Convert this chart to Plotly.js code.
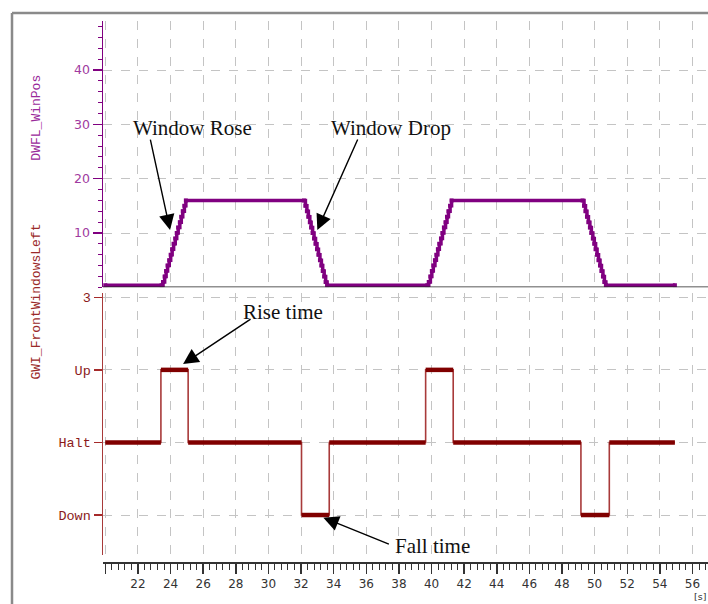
<!DOCTYPE html>
<html>
<head>
<meta charset="utf-8">
<script src="https://cdn.plot.ly/plotly-3.0.1.min.js"></script>
<style>html,body{margin:0;padding:0;background:#fff;}#chart{width:708px;height:604px;}</style>
</head>
<body>
<div id="chart"></div>
<script>
// Window position (DWFL_WinPos) samples
var posT = [20.0, 23.45,
  23.54, 23.64, 23.73, 23.82, 23.92, 24.01, 24.10, 24.19, 24.29, 24.38, 24.47, 24.57, 24.66, 24.75, 24.85, 24.94,
  32.18,
  32.27, 32.36, 32.45, 32.54, 32.62, 32.71, 32.80, 32.89, 32.98, 33.07, 33.16, 33.25, 33.33, 33.42, 33.51, 33.60,
  39.74,
  39.83, 39.93, 40.02, 40.11, 40.21, 40.30, 40.39, 40.48, 40.58, 40.67, 40.76, 40.86, 40.95, 41.04, 41.14, 41.23,
  49.26,
  49.35, 49.44, 49.53, 49.62, 49.71, 49.80, 49.89, 49.98, 50.06, 50.15, 50.24, 50.33, 50.42, 50.51, 50.60, 50.69,
  54.92];
var posV = [0.4, 0.4,
  1, 2, 3, 4, 5, 6, 7, 8, 9, 10, 11, 12, 13, 14, 15, 16,
  16,
  15, 14, 13, 12, 11, 10, 9, 8, 7, 6, 5, 4, 3, 2, 1, 0.4,
  0.4,
  1, 2, 3, 4, 5, 6, 7, 8, 9, 10, 11, 12, 13, 14, 15, 16,
  16,
  15, 14, 13, 12, 11, 10, 9, 8, 7, 6, 5, 4, 3, 2, 1, 0.4,
  0.4];

// Switch state (GWI_FrontWindowsLeft): 0=Down 1=Halt 2=Up
var stateT = [20.0, 23.41, 25.08, 32.03, 33.73, 39.64, 41.33, 49.16, 50.90, 54.92];
var stateV = [1, 2, 1, 0, 1, 2, 1, 0, 1, 1];

var stateTickVals = [0, 1, 2, 3];
var stateTickText = ['Down', 'Halt', 'Up', '3'];
var posTickVals = [10, 20, 30, 40];
var xTickVals = [20, 22, 24, 26, 28, 30, 32, 34, 36, 38, 40, 42, 44, 46, 48, 50, 52, 54, 56];
var xTickText = ['', '22', '24', '26', '28', '30', '32', '34', '36', '38', '40', '42', '44', '46', '48', '50', '52', '54', '56'];

// thick horizontal segments of the state signal
var segX = [], segY = [];
for (var i = 0; i < stateT.length - 1; i++) {
  segX.push(stateT[i], stateT[i + 1], null);
  segY.push(stateV[i], stateV[i], null);
}

var purple = '#800080';
var maroon = '#800000';
var noteFont = {family: 'Liberation Serif', size: 21, color: '#111'};

var traces = [
  {x: posT, y: posV, xaxis: 'x', yaxis: 'y', type: 'scatter', mode: 'lines+markers',
   line: {shape: 'hv', color: purple, width: 3.5},
   marker: {symbol: 'square', size: 4, color: purple}, hoverinfo: 'skip'},
  {x: stateT, y: stateV, xaxis: 'x', yaxis: 'y2', type: 'scatter', mode: 'lines',
   line: {shape: 'hv', color: '#a83a3a', width: 1.6}, hoverinfo: 'skip'},
  {x: segX, y: segY, xaxis: 'x', yaxis: 'y2', type: 'scatter', mode: 'lines',
   line: {color: maroon, width: 4.5}, connectgaps: false, hoverinfo: 'skip'}
];

var gridStyle = {showgrid: true, gridcolor: '#c4c4c4', griddash: 'dash', gridwidth: 1};

var layout = {
  width: 708, height: 604,
  margin: {l: 103, r: 0, t: 20, b: 42},
  paper_bgcolor: '#fff', plot_bgcolor: '#fff',
  showlegend: false,
  xaxis: Object.assign({
    range: [19.86, 56.95], anchor: 'free', position: 0,
    tickmode: 'array', tickvals: xTickVals, ticktext: xTickText,
    ticks: 'outside', ticklen: 10, tickwidth: 1.5, tickcolor: '#333',
    showline: true, linecolor: '#333', linewidth: 1.5,
    tickfont: {family: 'DejaVu Sans', size: 12, color: '#333'},
    minor: {dtick: 0.4, tick0: 0, ticks: 'outside', ticklen: 6, tickwidth: 1, tickcolor: '#333', showgrid: false},
    zeroline: false
  }, gridStyle),
  yaxis: Object.assign({
    domain: [0.5068, 0.9987], range: [0, 49.1],
    tickmode: 'array', tickvals: posTickVals,
    ticks: 'outside', ticklen: 9, tickwidth: 1.5, tickcolor: purple,
    showline: true, linecolor: purple, linewidth: 1.5,
    tickfont: {family: 'DejaVu Sans', size: 12.5, color: '#a03aa0'},
    minor: {dtick: 2, tick0: 0, ticks: 'outside', ticklen: 4, tickwidth: 1, tickcolor: purple, showgrid: false},
    zeroline: false
  }, gridStyle),
  yaxis2: Object.assign({
    domain: [0.0129, 0.4963], range: [-0.551, 3.059],
    tickmode: 'array', tickvals: stateTickVals, ticktext: stateTickText,
    ticks: 'outside', ticklen: 8, tickwidth: 1.5, tickcolor: '#a52a2a',
    showline: true, linecolor: '#a83a3a', linewidth: 1.5,
    tickfont: {family: 'Liberation Mono', size: 13.5, color: '#8b1a1a'},
    zeroline: false
  }, gridStyle),
  shapes: [
    {type: 'line', xref: 'paper', yref: 'y', x0: 0, x1: 1, y0: 0, y1: 0, layer: 'above',
     line: {color: '#222', width: 1.8}},
    {type: 'line', xref: 'paper', yref: 'paper', x0: -0.1504, x1: -0.1504, y0: -0.2, y1: 1.0129,
     line: {color: '#8a8a8a', width: 2.5}},
    {type: 'line', xref: 'paper', yref: 'paper', x0: -0.1504, x1: 1.05, y0: 1.0129, y1: 1.0129,
     line: {color: '#8a8a8a', width: 2.5}}
  ],
  annotations: [
    {text: 'DWFL_WinPos', xref: 'paper', yref: 'paper', x: -0.1256, y: 0.902, textangle: -90,
     showarrow: false, font: {family: 'Liberation Mono', size: 13, color: '#9a2a9a'}},
    {text: 'GWI_FrontWindowsLeft', xref: 'paper', yref: 'paper', x: -0.1256, y: 0.332, textangle: -90,
     showarrow: false, font: {family: 'Liberation Mono', size: 13, color: '#9a2a2a'}},
    {text: '[s]', xref: 'paper', yref: 'paper', x: 0.998, y: -0.0756, xanchor: 'right', yanchor: 'bottom',
     showarrow: false, borderpad: 0, font: {family: 'DejaVu Sans', size: 9.5, color: '#333'}},

    {text: 'Window Rose', xref: 'x', yref: 'y', x: 21.58, y: 29.3, xanchor: 'left', yanchor: 'middle',
     showarrow: false, font: noteFont},
    {text: 'Window Drop', xref: 'x', yref: 'y', x: 33.72, y: 29.3, xanchor: 'left', yanchor: 'middle',
     showarrow: false, font: noteFont},
    {text: 'Rise time', xref: 'x', yref: 'y2', x: 28.3, y: 2.80, xanchor: 'left', yanchor: 'middle',
     showarrow: false, font: noteFont},
    {text: 'Fall time', xref: 'x', yref: 'y2', x: 37.62, y: -0.43, xanchor: 'left', yanchor: 'middle',
     showarrow: false, font: noteFont},

    {text: '', xref: 'x', yref: 'y', x: 23.97, y: 10.55, ax: -20, ay: -92, showarrow: true,
     arrowhead: 2, arrowsize: 2.2, arrowwidth: 1.4, arrowcolor: '#000'},
    {text: '', xref: 'x', yref: 'y', x: 33.0, y: 10.55, ax: 41, ay: -92, showarrow: true,
     arrowhead: 2, arrowsize: 2.2, arrowwidth: 1.4, arrowcolor: '#000'},
    {text: '', xref: 'x', yref: 'y2', x: 24.77, y: 2.08, ax: 69, ay: -46, showarrow: true,
     arrowhead: 2, arrowsize: 2.2, arrowwidth: 1.4, arrowcolor: '#000'},
    {text: '', xref: 'x', yref: 'y2', x: 33.37, y: -0.037, ax: 67, ay: 27, showarrow: true,
     arrowhead: 2, arrowsize: 2.2, arrowwidth: 1.4, arrowcolor: '#000'}
  ]
};

Plotly.newPlot('chart', traces, layout, {staticPlot: true, displayModeBar: false});
</script>
</body>
</html>
